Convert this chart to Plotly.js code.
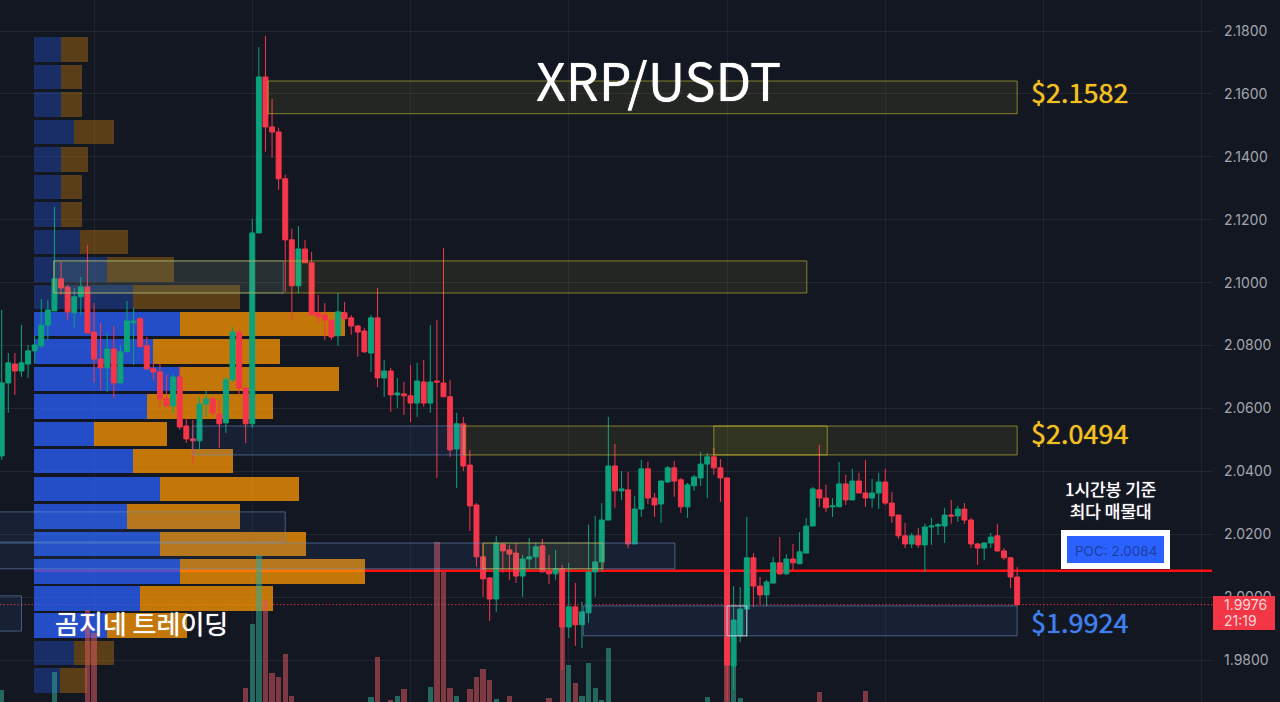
<!DOCTYPE html>
<html><head><meta charset="utf-8">
<script src="https://cdn.plot.ly/plotly-3.0.1.min.js"></script>
<style>html,body{margin:0;padding:0;background:#131722;overflow:hidden}#c{width:1280px;height:702px}</style>
</head><body><div id="c"></div>
<script>
const open_=[2.0449,2.0681,2.0741,2.0719,2.0741,2.0783,2.0799,2.0865,2.0910,2.1012,2.0986,2.0904,2.0955,2.0986,2.0843,2.0757,2.0729,2.0789,2.0681,2.0780,2.0872,2.0885,2.0799,2.0726,2.0716,2.0630,2.0608,2.0700,2.0544,2.0503,2.0497,2.0614,2.0630,2.0582,2.0554,2.0691,2.0843,2.0665,2.0551,2.1158,2.1654,2.1495,2.1479,2.1330,2.1136,2.0990,2.1107,2.1063,2.0904,2.0897,2.0881,2.0831,2.0904,2.0888,2.0862,2.0846,2.0776,2.0888,2.0697,2.0719,2.0643,2.0646,2.0640,2.0617,2.0684,2.0617,2.0687,2.0681,2.0637,2.0471,2.0551,2.0420,2.0293,2.0128,2.0061,1.9994,2.0169,2.0150,2.0140,2.0067,2.0121,2.0128,2.0163,2.0083,2.0074,2.0090,1.9905,1.9969,1.9912,1.9950,2.0080,2.0112,2.0245,2.0417,2.0338,2.0341,2.0169,2.0280,2.0408,2.0315,2.0296,2.0366,2.0411,2.0373,2.0287,2.0354,2.0379,2.0423,2.0446,2.0411,2.0379,1.9781,1.9877,1.9962,2.0125,2.0035,2.0007,2.0045,2.0109,2.0074,2.0121,2.0106,2.0140,2.0226,2.0341,2.0315,2.0287,2.0287,2.0360,2.0309,2.0369,2.0331,2.0315,2.0331,2.0366,2.0299,2.0261,2.0195,2.0169,2.0195,2.0166,2.0223,2.0226,2.0226,2.0261,2.0258,2.0280,2.0245,2.0169,2.0156,2.0172,2.0195,2.0147,2.0125,2.0064];
const high=[2.0913,2.0776,2.0776,2.0865,2.0802,2.0831,2.0948,2.0945,2.1241,2.1066,2.0993,2.0983,2.1018,2.1120,2.0935,2.0872,2.0840,2.0862,2.0802,2.0942,2.0920,2.0891,2.0827,2.0745,2.0745,2.0707,2.0707,2.0732,2.0570,2.0563,2.0637,2.0656,2.0637,2.0627,2.0700,2.0859,2.0850,2.0668,2.1203,2.1749,2.1784,2.1584,2.1492,2.1343,2.1171,2.1180,2.1136,2.1098,2.0961,2.0935,2.0881,2.0967,2.0939,2.0897,2.0865,2.0856,2.0897,2.0983,2.0754,2.0729,2.0697,2.0684,2.0738,2.0745,2.0754,2.0865,2.0881,2.1110,2.0691,2.0586,2.0573,2.0468,2.0299,2.0172,2.0064,2.0195,2.0169,2.0166,2.0172,2.0134,2.0188,2.0172,2.0185,2.0134,2.0150,2.0102,2.0109,2.0045,1.9985,2.0230,2.0258,2.0299,2.0573,2.0487,2.0401,2.0398,2.0322,2.0436,2.0430,2.0331,2.0373,2.0417,2.0433,2.0379,2.0363,2.0389,2.0462,2.0458,2.0474,2.0439,2.0379,2.0035,2.0032,2.0255,2.0140,2.0064,2.0055,2.0128,2.0191,2.0137,2.0169,2.0207,2.0252,2.0350,2.0484,2.0357,2.0315,2.0430,2.0389,2.0408,2.0395,2.0436,2.0376,2.0395,2.0408,2.0334,2.0261,2.0236,2.0204,2.0220,2.0233,2.0252,2.0236,2.0284,2.0309,2.0290,2.0299,2.0252,2.0172,2.0175,2.0204,2.0233,2.0156,2.0128,2.0096];
const low=[2.0436,2.0586,2.0643,2.0700,2.0697,2.0745,2.0792,2.0818,2.0910,2.0961,2.0881,2.0856,2.0897,2.0840,2.0681,2.0659,2.0652,2.0633,2.0681,2.0780,2.0738,2.0796,2.0722,2.0691,2.0605,2.0605,2.0586,2.0532,2.0490,2.0427,2.0468,2.0573,2.0579,2.0474,2.0522,2.0684,2.0643,2.0490,2.0538,2.1158,2.1416,2.1397,2.1295,2.0970,2.0881,2.0967,2.1063,2.0897,2.0872,2.0818,2.0818,2.0799,2.0881,2.0834,2.0764,2.0776,2.0716,2.0668,2.0637,2.0589,2.0602,2.0579,2.0557,2.0573,2.0605,2.0586,2.0379,2.0637,2.0446,2.0347,2.0401,2.0210,2.0096,2.0001,1.9924,1.9953,2.0077,2.0055,2.0045,2.0001,2.0093,2.0093,2.0080,2.0042,2.0055,1.9768,1.9870,1.9845,1.9838,1.9918,2.0001,2.0080,2.0245,2.0284,2.0309,2.0156,2.0169,2.0255,2.0296,2.0255,2.0236,2.0363,2.0319,2.0268,2.0252,2.0338,2.0354,2.0315,2.0389,2.0303,1.9673,1.9705,1.9857,1.9873,1.9969,1.9978,1.9972,2.0042,2.0070,2.0070,2.0086,2.0106,2.0140,2.0226,2.0287,2.0271,2.0255,2.0287,2.0293,2.0309,2.0331,2.0287,2.0284,2.0280,2.0293,2.0236,2.0185,2.0156,2.0156,2.0156,2.0080,2.0166,2.0198,2.0172,2.0233,2.0239,2.0233,2.0156,2.0102,2.0118,2.0156,2.0144,2.0118,2.0029,1.9972];
const close_=[2.0681,2.0745,2.0719,2.0745,2.0783,2.0802,2.0865,2.0913,2.1012,2.0983,2.0907,2.0955,2.0986,2.0840,2.0757,2.0729,2.0789,2.0681,2.0780,2.0878,2.0878,2.0796,2.0726,2.0716,2.0630,2.0608,2.0700,2.0541,2.0503,2.0497,2.0614,2.0630,2.0586,2.0551,2.0691,2.0843,2.0665,2.0551,2.1158,2.1654,2.1495,2.1479,2.1330,2.1136,2.0990,2.1107,2.1063,2.0897,2.0891,2.0881,2.0827,2.0907,2.0885,2.0862,2.0843,2.0780,2.0888,2.0697,2.0719,2.0643,2.0649,2.0640,2.0617,2.0687,2.0617,2.0684,2.0684,2.0637,2.0468,2.0551,2.0417,2.0290,2.0128,2.0058,1.9994,2.0172,2.0147,2.0137,2.0067,2.0121,2.0128,2.0160,2.0080,2.0074,2.0090,1.9905,1.9969,1.9912,1.9953,2.0080,2.0112,2.0245,2.0417,2.0338,2.0344,2.0169,2.0280,2.0408,2.0315,2.0293,2.0369,2.0411,2.0369,2.0287,2.0357,2.0382,2.0423,2.0446,2.0411,2.0379,1.9784,1.9927,1.9962,2.0125,2.0035,2.0007,2.0048,2.0109,2.0074,2.0121,2.0109,2.0144,2.0226,2.0344,2.0315,2.0284,2.0290,2.0360,2.0309,2.0369,2.0331,2.0315,2.0331,2.0366,2.0299,2.0258,2.0195,2.0169,2.0195,2.0166,2.0223,2.0226,2.0230,2.0261,2.0258,2.0280,2.0245,2.0169,2.0156,2.0172,2.0191,2.0147,2.0125,2.0064,1.9976];
const volume=[12,0,0,0,0,0,0,0,30,0,0,0,0,92,69,0,0,0,0,0,0,0,0,0,0,0,0,0,0,0,0,0,0,0,0,0,0,14,78,147,102,29,25,48,6,0,0,0,0,0,0,0,0,0,0,0,5,45,0,2,6,13,0,0,0,15,160,130,14,6,0,13,25,33,22,3,0,6,0,0,0,0,0,4,0,80,37,19,6,39,14,2,54,0,0,0,0,0,0,0,0,0,0,0,0,0,0,5,0,0,37,37,4,0,0,0,0,0,0,0,0,0,0,0,10,0,0,0,0,0,0,11,0,0,0,0,0,0,0,0,0,0,0,0,0,0,0,0,0,0,0,0,0,0,0];
const profilePrice=[2.1741,2.1654,2.1566,2.1479,2.1391,2.1304,2.1217,2.1129,2.1042,2.0954,2.0868,2.0781,2.0693,2.0606,2.0518,2.0433,2.0344,2.0256,2.0169,2.0081,1.9996,1.9910,1.9822,1.9735];
const profileBuy=[27,27,27,40,27,27,27,46,73,99,146,119,146,113,60,99,126,93,126,146,106,73,40,26];
const profileSell=[27,21,21,40,27,21,21,48,67,107,165,127,159,126,73,100,139,113,146,185,133,80,40,27];
const inValueArea=[0,0,0,0,0,0,0,0,0,0,1,1,1,1,1,1,1,1,1,1,1,1,0,0];
const yellowZones=[[40.4,154,2.1641,2.1537],[7.9,122.1,2.1069,2.0967],[70.1,154,2.0544,2.0452],[108,125.2,2.0544,2.0452],[73,91.2,2.0172,2.0090]];
const blueZones=[[7.9,42.7,2.1069,2.0967],[28.9,70.1,2.0544,2.0452],[-5,43,2.0271,2.0175],[-5,102.1,2.0172,2.0090],[-5,3,2.0004,1.9892],[88.2,154,1.9972,1.9877],[110,113,1.9972,1.9877]];
const poc=2.0084, lastPrice=1.9976;
const priceTicks=[1.98,2.00,2.02,2.04,2.06,2.08,2.10,2.12,2.14,2.16,2.18];

const idx=open_.map((_,i)=>i);
const UP='#0ba27c', DN='#f5364a';
const W=1213,H=702;
const px=x=>x/W, py=y=>1-y/H;
const KR='"Noto Sans CJK KR","Noto Sans",sans-serif';
const UI='Inter,"Liberation Sans",sans-serif';

const traces=[
 {type:'bar',orientation:'h',xaxis:'x',yaxis:'y',y:profilePrice,x:profileBuy,width:0.0078,hoverinfo:'skip',
  marker:{color:inValueArea.map(v=>v?'rgba(41,98,255,0.75)':'rgba(41,98,255,0.3)'),line:{width:0}}},
 {type:'bar',orientation:'h',xaxis:'x',yaxis:'y',y:profilePrice,x:profileSell,width:0.0078,hoverinfo:'skip',
  marker:{color:inValueArea.map(v=>v?'rgba(255,152,0,0.75)':'rgba(255,152,0,0.3)'),line:{width:0}}},
 {type:'bar',xaxis:'x2',yaxis:'y2',x:idx,y:volume,width:0.8,hoverinfo:'skip',
  marker:{color:idx.map(i=>close_[i]>=open_[i]?'rgba(50,170,145,0.55)':'rgba(215,85,95,0.55)'),line:{width:0}}},
 {type:'candlestick',xaxis:'x3',yaxis:'y',x:idx,open:open_,high:high,low:low,close:close_,whiskerwidth:0,hoverinfo:'skip',
  increasing:{line:{color:UP,width:1},fillcolor:UP},decreasing:{line:{color:DN,width:1},fillcolor:DN}}
];

const shapes=[];
shapes.push({type:'line',xref:'x',yref:'y',x0:0,x1:1178,y0:poc,y1:poc,layer:'below',line:{color:'#ff1010',width:2.5}});
shapes.push({type:'line',xref:'x',yref:'y',x0:-34,x1:1179,y0:lastPrice,y1:lastPrice,layer:'below',line:{color:'#d83040',width:1,dash:'1.5px,2px'}});
blueZones.forEach((z,i)=>shapes.push({type:'rect',xref:'x3',yref:'y',x0:z[0],x1:z[1],y0:z[2],y1:z[3],layer:'above',
  fillcolor:i==6?'rgba(200,220,255,0.05)':'rgba(72,130,220,0.10)',line:{color:i==6?'rgba(220,230,240,0.7)':'rgba(110,150,200,0.55)',width:1}}));
yellowZones.forEach((z,i)=>shapes.push({type:'rect',xref:'x3',yref:'y',x0:z[0],x1:z[1],y0:z[2],y1:z[3],layer:'above',
  fillcolor:'rgba(255,235,40,0.07)',line:{color:'rgba(205,195,50,0.6)',width:1}}));
shapes.push({type:'rect',xref:'paper',yref:'paper',x0:px(1064),x1:px(1167),y0:py(533),y1:py(566),layer:'above',
  fillcolor:'#2962ff',line:{color:'#ffffff',width:6}});
shapes.push({type:'rect',xref:'paper',yref:'paper',x0:px(1213),x1:px(1275),y0:py(596),y1:py(630),layer:'above',
  fillcolor:'#f23645',line:{width:0}});

const txt=(t,x,y,size,color,anchor,family,shadow)=>({text:t,xref:'paper',yref:'paper',x:px(x),y:py(y),xanchor:anchor||'left',yanchor:'middle',
  showarrow:false,borderpad:0,font:{family:family||KR,size:size,color:color,shadow:shadow||'none'}});
const annotations=[
 txt('XRP/USDT',658.5,79,52,'#ffffff','center',KR,'0 0 1px #ffffff'),
 txt('$2.1582',1030,91,27,'#f4c020','left',KR,'0 0 1px #f4c020'),
 txt('$2.0494',1030,433,27,'#f4c020','left',KR,'0 0 1px #f4c020'),
 txt('$1.9924',1030,621,27,'#3f80ee','left',KR,'0 0 1px #3f80ee'),
 txt('곰지네 트레이딩',54,622,26,'#ffffff','left',KR,'0 0 1px #ffffff'),
 txt('1시간봉 기준<br>최다 매물대',1110,499.5,17,'#ffffff','center',KR,'0 0 1px #ffffff'),
 txt('POC: 2.0084',1116,551,13.5,'#1f3f9f','center',UI),
 txt('1.9976',1223,604.5,14,'#f7d5d8','left',UI),
 txt('21:19',1223,620.5,14,'#f7d5d8','left',UI)
];

const idxRange=[-0.258,183.7];
const layout={
 width:1280,height:702,margin:{l:0,r:67,t:0,b:0,pad:0},
 paper_bgcolor:'#131722',plot_bgcolor:'#131722',showlegend:false,barmode:'stack',boxgap:0.25,boxgroupgap:0,boxmode:'overlay',
 xaxis:{range:[-34,1179],visible:false,fixedrange:true,rangeslider:{visible:false}},
 xaxis2:{range:idxRange,overlaying:'x',anchor:'y2',showticklabels:false,ticks:'',showgrid:true,gridcolor:'rgba(255,255,255,0.055)',gridwidth:1,tick0:14,dtick:24,zeroline:false,showline:false,rangeslider:{visible:false}},
 xaxis3:{range:idxRange,overlaying:'x',anchor:'y',visible:false,rangeslider:{visible:false}},
 yaxis:{range:[1.96665,2.18986],side:'right',anchor:'x',tickmode:'array',tickvals:priceTicks,ticktext:priceTicks.map(v=>v.toFixed(4)),
   ticks:'',ticklabelstandoff:10,tickfont:{family:UI,size:14,color:'#a3a6af'},
   showgrid:true,gridcolor:'rgba(255,255,255,0.065)',gridwidth:1,zeroline:false,showline:false},
 yaxis2:{range:[0,702],overlaying:'y',anchor:'x2',visible:false,side:'left'},
 shapes:shapes,annotations:annotations
};
Plotly.newPlot('c',traces,layout,{staticPlot:true,displayModeBar:false});
</script></body></html>
